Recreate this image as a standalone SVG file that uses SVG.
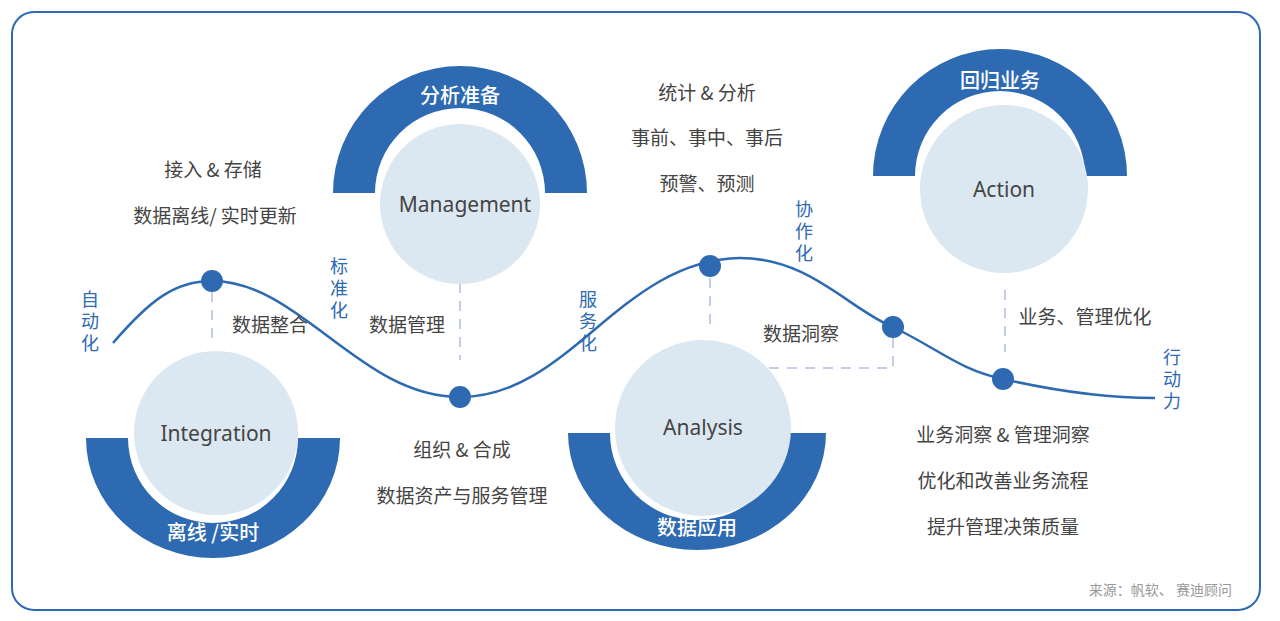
<svg xmlns="http://www.w3.org/2000/svg" width="1280" height="621" viewBox="0 0 1280 621">
<style>
.t{font-family:"Noto Sans CJK SC","Noto Sans",sans-serif;font-size:19px;fill:#444;text-anchor:middle}
.w{font-family:"Noto Sans CJK SC",sans-serif;font-size:20px;fill:#fff;text-anchor:middle;font-weight:500}
.b{font-family:"Noto Sans CJK SC",sans-serif;font-size:18px;fill:#2e6ab2;text-anchor:middle}
.e{font-family:"Noto Sans","Open Sans",sans-serif;font-size:21px;fill:#444;text-anchor:middle}
.arc{fill:#2e6ab2}
.c{fill:#dce8f1}
.d{stroke:#c4cde8;stroke-width:2;stroke-dasharray:10 8;fill:none}
.dot{fill:#2e6ab2}
</style>
<rect x="12" y="12" width="1248" height="598" rx="22" fill="#fff" stroke="#2e6ab2" stroke-width="2"/>
<g id="connectors">
<path d="M113,343 C150,300 175,281 212,281 C300,281 360,397 460,397 C570,397 620,260 740,258 C810,258 850,310 893,327 C940,350 960,370 1003,379 C1060,392 1110,398 1155,398" fill="none" stroke="#2e6ab2" stroke-width="2.5"/>
<path class="d" d="M212,292 V345"/>
<path class="d" d="M460,283 V360"/>
<path class="d" d="M710,278 V330"/>
<path class="d" d="M893,338 V368 H758"/>
<path class="d" d="M1005,290 V352"/>
<circle class="dot" cx="212" cy="281" r="11"/>
<circle class="dot" cx="460" cy="397" r="11"/>
<circle class="dot" cx="710" cy="266" r="11"/>
<circle class="dot" cx="893" cy="327" r="11"/>
<circle class="dot" cx="1003" cy="379" r="11"/>
</g>
<g id="management">
<path class="arc" d="M333,193 A127,127 0 0 1 587,193 L545,193 A85,85 0 0 0 375,193 Z"/>
<circle class="c" cx="460" cy="204" r="80"/>
<text class="w" x="460" y="103">分析准备</text>
<text class="e" x="465" y="212">Management</text>
</g>
<g id="integration">
<path class="arc" d="M86,438 A127,120 0 0 0 340,438 L298,438 A85,85 0 0 1 128,438 Z"/>
<circle class="c" cx="216" cy="433" r="82"/>
<text class="w" x="213" y="540">离线 /实时</text>
<text class="e" x="216" y="441">Integration</text>
</g>
<g id="analysis">
<path class="arc" d="M568,433 A129,117 0 0 0 826,433 L784,433 A87,87 0 0 1 610,433 Z"/>
<circle class="c" cx="703" cy="428" r="88"/>
<text class="w" x="697" y="535">数据应用</text>
<text class="e" x="703" y="435">Analysis</text>
</g>
<g id="action">
<path class="arc" d="M873,176 A127,127 0 0 1 1127,176 L1085,176 A85,85 0 0 0 915,176 Z"/>
<circle class="c" cx="1004" cy="189" r="84"/>
<text class="w" x="1000" y="88">回归业务</text>
<text class="e" x="1004" y="197">Action</text>
</g>
<g id="labels">
<text class="t" x="213" y="177">接入 &amp; 存储</text>
<text class="t" x="215" y="223">数据离线/ 实时更新</text>
<text class="t" x="270" y="332">数据整合</text>
<text class="t" x="407" y="332">数据管理</text>
<text class="t" x="462" y="457">组织 &amp; 合成</text>
<text class="t" x="462" y="503">数据资产与服务管理</text>
<text class="t" x="707" y="100">统计 &amp; 分析</text>
<text class="t" x="707" y="145">事前、事中、事后</text>
<text class="t" x="707" y="191">预警、预测</text>
<text class="t" x="801" y="341">数据洞察</text>
<text class="t" x="1085" y="324">业务、管理优化</text>
<text class="t" x="1003" y="442">业务洞察 &amp; 管理洞察</text>
<text class="t" x="1003" y="488">优化和改善业务流程</text>
<text class="t" x="1003" y="534">提升管理决策质量</text>
<text class="b" x="90" y="306">自</text><text class="b" x="90" y="328">动</text><text class="b" x="90" y="350">化</text>
<text class="b" x="339" y="273">标</text><text class="b" x="339" y="295">准</text><text class="b" x="339" y="317">化</text>
<text class="b" x="588" y="306">服</text><text class="b" x="588" y="328">务</text><text class="b" x="588" y="350">化</text>
<text class="b" x="804" y="216">协</text><text class="b" x="804" y="238">作</text><text class="b" x="804" y="260">化</text>
<text class="b" x="1172" y="364">行</text><text class="b" x="1172" y="386">动</text><text class="b" x="1172" y="408">力</text>
<text x="1232" y="595" style="font-family:'Noto Sans CJK SC',sans-serif;font-size:14px;fill:#999;text-anchor:end">来源：帆软、 赛迪顾问</text>
</g>
</svg>
